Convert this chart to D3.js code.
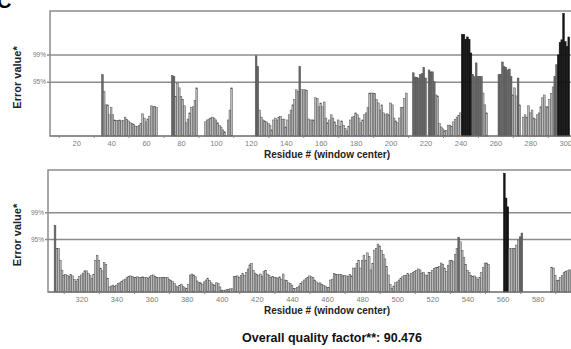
<!DOCTYPE html>
<html>
<head>
<meta charset="utf-8">
<script src="https://cdn.jsdelivr.net/npm/d3@7"></script>
<style>
  html, body { margin: 0; padding: 0; background: #fff; }
  svg { display: block; font-family: Arial, "Liberation Sans", sans-serif; }
</style>
</head>
<body>
<svg id="chart" width="571" height="349"></svg>
<script>
// ERRAT error values per residue (window center); null = no window
const topStart = 35
const topErrors = [
  13.0, 9.4, 6.6, 6.6, 4.5, 6.0, 4.5, 3.4, 3.3, 3.3,
  3.4, 3.2, 3.3, 4.0, 3.5, 3.2, 2.8, 2.6, 2.4, 2.1,
  2.0, 2.2, 2.6, 4.7, 3.8, 3.0, 3.6, 4.2, 6.4, 6.2,
  6.3, 6.0, null, null, null, null, null, null, null, null,
  12.8, 12.6, 8.4, 11.2, 10.2, 8.4, 7.7, 6.4, 2.8, 3.6,
  4.9, 6.0, 6.2, 7.5, 10.2, null, null, null, null, 3.0,
  3.4, 3.6, 3.8, 4.0, 3.8, 3.4, 2.8, 2.2, 1.9, 1.3,
  0.9, null, 3.4, 5.5, 10.2, null, null, null, null, null,
  null, null, null, null, null, null, null, null, 17.0, 14.7,
  5.5, 4.0, 3.4, 3.2, 3.0, 2.6, 2.3, 1.3, 3.4, 3.8,
  3.4, 4.0, 4.2, 3.5, 3.6, 1.9, 3.4, 4.5, 5.5, 6.6,
  7.7, 9.8, 9.4, 14.7, 9.8, 9.8, 9.8, 9.6, 3.6, 3.4,
  3.4, 3.4, 8.1, 7.9, 6.2, 7.0, 6.2, 7.2, 3.8, 2.8,
  3.4, 4.5, 3.8, 3.0, 2.3, 3.4, 2.0, 3.2, 2.3, 1.6,
  1.1, 2.0, 3.4, 4.0, 4.2, 4.9, 4.5, 3.8, 2.8, 3.4,
  4.5, 4.9, 6.0, 9.1, 9.1, 9.1, 9.0, 7.7, 7.0, 5.5,
  6.6, 4.9, 4.5, 4.7, 4.5, 7.0, 6.6, 3.8, 3.2, 2.8,
  3.8, 6.0, 6.0, 8.0, 9.1, null, null, null, 13.4, 12.5,
  12.4, 12.3, 13.0, 13.2, 14.5, 12.3, null, 14.0, 13.6, 13.6,
  11.5, 8.7, 8.5, 2.6, 1.9, 1.5, 1.1, 1.2, 2.3, 2.3,
  2.0, 3.0, 3.5, 4.0, 4.4, 4.9, 21.5, 21.5, 20.5, 21.0,
  20.5, 17.6, 13.0, 12.6, 15.5, 12.6, 12.6, 12.6, 9.1, 6.6,
  4.9, null, null, null, null, null, null, 13.0, 13.0, 15.7,
  14.7, 14.5, 14.0, 14.2, 12.6, 8.7, 10.2, 8.5, 12.3, 6.6,
  null, 4.0, 4.5, 4.0, 6.4, 4.9, 5.5, 3.8, 3.6, 4.5,
  4.9, 6.2, 8.1, 8.7, 6.2, 6.2, 7.7, 9.0, 10.4, 12.6,
  15.1, 17.2, 19.8, 20.4, 26.0, 20.0, 19.0, 21.0
]

const bottomStart = 305
const bottomErrors = [
  14.5, 9.5, 9.5, 6.9, 4.7, 3.6, 3.8, 3.6, 3.4, 3.8,
  3.5, 2.7, 2.3, 2.8, 3.4, 3.7, 4.1, 4.6, 4.6, 4.0,
  3.6, 3.0, 3.8, 6.9, 8.0, 6.9, 5.2, 4.6, 6.4, 6.0,
  3.0, 1.1, 1.3, 1.5, 1.2, 1.5, 1.9, 2.0, 2.3, 2.6,
  2.8, 3.1, 3.4, 3.5, 3.4, 3.2, 3.2, 3.3, 3.2, 3.2,
  3.3, 3.2, 3.2, 3.0, 3.3, 3.6, 3.7, 3.4, 3.1, 3.1,
  3.2, 3.2, 3.1, 3.2, 3.2, 2.7, 2.5, 2.3, 1.8, 1.3,
  1.1, 1.4, 1.7, 1.2, 0.9, 0.8, 1.6, 3.7, 3.9, 3.7,
  3.3, 2.4, 2.1, 2.0, 1.7, 2.2, 2.6, 3.0, 2.5, 2.0,
  1.7, 1.5, 2.0, 1.8, 1.1, 0.4, 0.4, 0.4, 0.5, 0.6,
  0.7, 0.7, 3.4, 3.4, 3.5, 3.2, 3.6, 4.0, 3.6, 4.3,
  5.0, 5.9, 6.2, 4.7, 4.1, 3.8, 3.6, 3.9, 3.4, 4.4,
  4.7, 3.9, 3.6, 3.1, 3.4, 3.2, 3.1, 2.9, 3.3, 2.8,
  3.9, 2.6, 2.5, 2.0, 1.9, 1.5, 0.8, 0.8, 1.0, 1.3,
  1.9, 2.2, 2.6, 2.9, 3.2, 3.5, 3.3, 3.1, 2.6, 2.2,
  1.9, 2.0, 1.7, 1.5, 1.3, 1.0, 1.0, 2.6, 2.8, 4.0,
  3.8, 3.8, 3.8, 3.8, 3.5, 3.6, 3.5, 3.4, 3.8, 3.5,
  5.2, 5.2, 6.2, 6.9, 5.2, 6.9, 8.0, 6.9, 8.5, 7.7,
  4.8, 6.2, 9.1, 9.5, 10.4, 10.0, 9.0, 8.2, 7.2, 5.6,
  3.7, 1.6, 0.8, 1.3, 2.0, 2.2, 2.6, 3.0, 3.3, 3.6,
  3.6, 4.0, 3.7, 4.0, 4.2, 4.4, 4.7, 5.0, 4.8, 4.1,
  4.3, 3.7, 3.6, 4.3, 4.2, 4.7, 5.1, 5.3, 5.4, 5.5,
  6.3, 6.0, 5.2, 4.5, 5.8, 6.8, 6.9, 6.6, 8.2, 9.4,
  11.9, 10.9, 9.0, 7.5, 6.0, 4.7, 4.2, 3.6, 3.4, 3.5,
  3.1, 2.7, 3.2, 4.2, 5.3, 6.3, 6.3, 6.0, null, null,
  null, null, null, null, null, null, 25.8, 20.4, 18.5, 9.5,
  9.4, 9.4, 9.5, 10.2, 11.3, 12.0, 12.8, null, null, null,
  null, null, null, null, null, null, null, null, null, null,
  null, null, null, 5.4, 5.2, 3.6, 2.5, 2.6, 3.2, 3.6,
  4.2, 4.4, 4.6, 4.8, 4.8
]

const topTickLabels = [20, 40, 60, 80, 100, 120, 140, 160, 180, 200, 220, 240, 260, 280, 300]
const topMinorTicks = [10, 30, 50, 70, 90, 110, 130, 150, 170, 190, 210, 230, 250, 270, 290]
const bottomTickLabels = [320, 340, 360, 380, 400, 420, 440, 460, 480, 500, 520, 540, 560, 580]
const bottomMinorTicks = [310, 330, 350, 370, 390, 410, 430, 450, 470, 490, 510, 530, 550, 570, 590]

const limitLabels = ['99%', '95%']
const limitValues = [17.19, 11.38]
const qualityFactor = '90.476'

const svg = d3.select('#chart')

function barColor(v) {
  if (v > limitValues[0]) return '#151515'
  if (v > limitValues[1]) return '#6a6a6a'
  return '#bcbcbc'
}

function drawPanel(cfg) {
  const x = d3.scaleLinear().domain(cfg.domain).range([cfg.left, cfg.right])
  const y = d3.scaleLinear().domain([0, 26.5]).range([cfg.bottom, cfg.top])
  const g = svg.append('g')

  // frame (right side runs off the picture)
  g.append('rect')
    .attr('x', cfg.left).attr('y', cfg.top)
    .attr('width', 600 - cfg.left).attr('height', cfg.bottom - cfg.top)
    .attr('fill', 'none').attr('stroke', '#8c8c8c').attr('stroke-width', 1.5)

  // 99% / 95% lines
  limitValues.forEach((v, i) => {
    g.append('line')
      .attr('x1', cfg.left - 3).attr('x2', 600)
      .attr('y1', y(v)).attr('y2', y(v))
      .attr('stroke', '#8c8c8c').attr('stroke-width', 1.5)
    g.append('text')
      .attr('x', cfg.left - 4).attr('y', y(v) + 2)
      .attr('text-anchor', 'end')
      .attr('font-size', 6.5).attr('fill', '#777')
      .text(limitLabels[i])
  })

  const data = cfg.values
    .map((v, i) => ({ res: cfg.start + i, v }))
    .filter(d => d.v !== null)
  const bw = x(1) - x(0)

  g.append('g').selectAll('rect')
    .data(data)
    .join('rect')
    .attr('x', d => x(d.res - 0.5))
    .attr('width', bw)
    .attr('y', d => y(d.v))
    .attr('height', d => y(0) - y(d.v))
    .attr('fill', d => barColor(d.v))
    .attr('stroke', d => d.v > limitValues[0] ? '#151515' : '#505050')
    .attr('stroke-width', 0.5)

  // baseline
  g.append('line')
    .attr('x1', cfg.left).attr('x2', 600)
    .attr('y1', cfg.bottom).attr('y2', cfg.bottom)
    .attr('stroke', '#777').attr('stroke-width', 1.2)

  const axis = g.append('g')
    .attr('transform', `translate(0,${cfg.bottom})`)
    .call(d3.axisBottom(x).tickValues(cfg.ticks).tickSize(0).tickPadding(5))
  axis.select('.domain').remove()
  axis.selectAll('text').attr('font-size', 7.5).attr('fill', '#808080')
    .attr('font-family', 'Arial, "Liberation Sans", sans-serif')

  const minor = g.append('g')
    .attr('transform', `translate(0,${cfg.bottom})`)
    .call(d3.axisBottom(x).tickValues(cfg.minor).tickSize(2).tickFormat(''))
  minor.select('.domain').remove()
  minor.selectAll('line').attr('stroke', '#888')

  g.append('text')
    .attr('transform', `translate(21,${(cfg.top + cfg.bottom) / 2 + 4}) rotate(-90)`)
    .attr('text-anchor', 'middle')
    .attr('font-size', 11).attr('font-weight', 'bold').attr('fill', '#222')
    .text('Error value*')

  g.append('text')
    .attr('x', 327).attr('y', cfg.bottom + 22)
    .attr('text-anchor', 'middle')
    .attr('font-size', 10).attr('font-weight', 'bold').attr('fill', '#222')
    .text('Residue # (window center)')
}

drawPanel({
  start: topStart, values: topErrors, ticks: topTickLabels, minor: topMinorTicks,
  domain: [5, 303], left: 50, right: 570.5, top: 11, bottom: 136
})

drawPanel({
  start: bottomStart, values: bottomErrors, ticks: bottomTickLabels, minor: bottomMinorTicks,
  domain: [301, 599.5], left: 48, right: 571.9, top: 170, bottom: 292
})

svg.append('text')
  .attr('x', 332).attr('y', 342)
  .attr('text-anchor', 'middle')
  .attr('font-size', 12.5).attr('font-weight', 'bold').attr('fill', '#111')
  .text(`Overall quality factor**: ${qualityFactor}`)

// panel letter, partly cut by the top-left corner as in the figure
svg.append('text')
  .attr('x', -3).attr('y', 8)
  .attr('font-size', 20).attr('font-weight', 'bold').attr('fill', '#000')
  .text('C')
</script>
</body>
</html>
